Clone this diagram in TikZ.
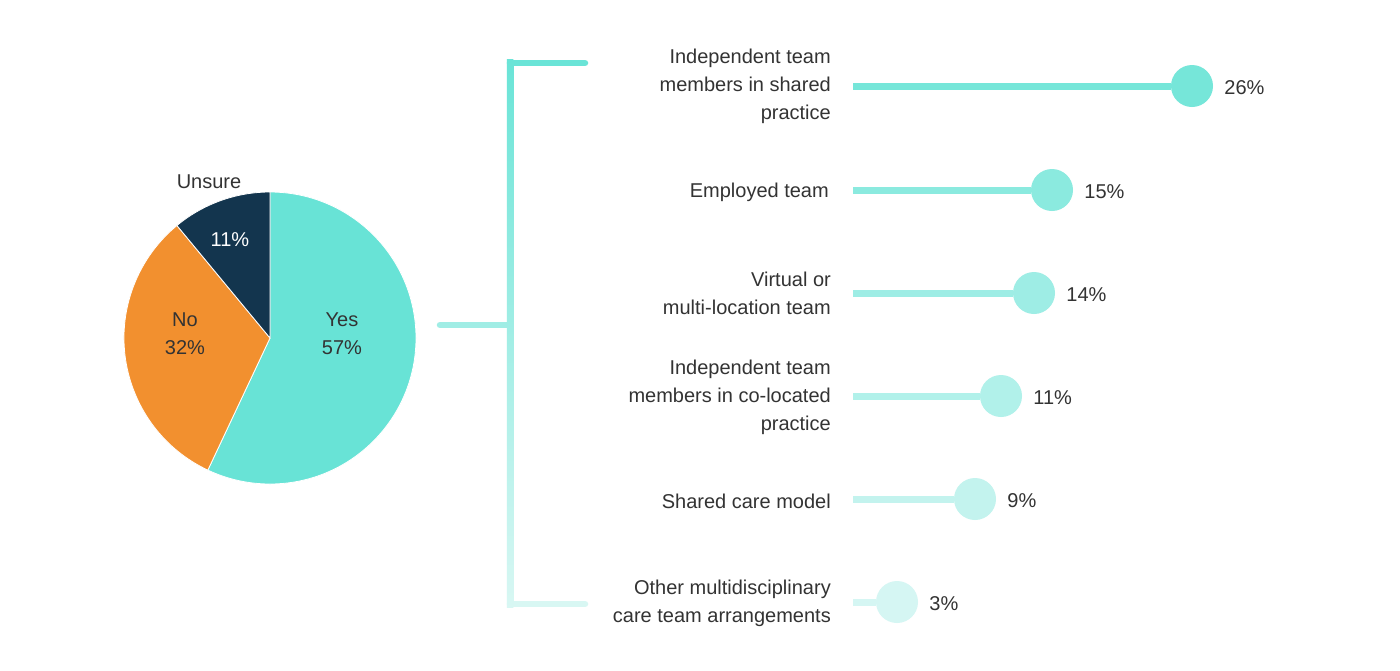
\documentclass[tikz,border=0pt]{standalone}
\usepackage{fontspec}
\setmainfont{Liberation Sans}
\definecolor{yescol}{HTML}{68E3D6}
\definecolor{nocol}{HTML}{F2902F}
\definecolor{unsurecol}{HTML}{13354E}
\definecolor{textcol}{HTML}{333333}
\definecolor{ra}{HTML}{76E6D9}
\definecolor{rb}{HTML}{8BEADF}
\definecolor{rc}{HTML}{9EEDE5}
\definecolor{rd}{HTML}{B1F1EA}
\definecolor{re}{HTML}{C3F3EE}
\definecolor{rf}{HTML}{D5F6F3}
\definecolor{bktop}{HTML}{6AE4D7}
\definecolor{bkmid}{HTML}{A0EDE5}
\definecolor{bkbot}{HTML}{D8F7F3}
\begin{document}
\begin{tikzpicture}[x=1pt,y=-1pt,
  txt/.style={font=\fontsize{20}{28}\selectfont, text=textcol, inner sep=0pt, yshift=-2pt},
  slice/.style={draw=white, line width=0.8pt},
  bar/.style={line width=7pt},
  dot/.style={circle, minimum size=42pt, inner sep=0pt},
  stub/.style={line width=6.5pt, line cap=round}]
\useasboundingbox (0,0) rectangle (1400,670);
\fill[white] (0,0) rectangle (1400,670);
% pie
\coordinate (pc) at (270,338);
\fill[yescol,slice] (pc) -- ++(-90:146) arc[start angle=-90,end angle=115.2,radius=146] -- cycle;
\fill[nocol,slice] (pc) -- ++(115.2:146) arc[start angle=115.2,end angle=230.4,radius=146] -- cycle;
\fill[unsurecol,slice] (pc) -- ++(230.4:146) arc[start angle=230.4,end angle=270,radius=146] -- cycle;
\node[txt] (unsure) at (209,180) {Unsure};
\node[txt,text=white] (unsurep) at (230,238) {11\%};
\node[txt,align=center] (no) at (185,332) {No\\32\%};
\node[txt,align=center] (yes) at (342,332) {Yes\\57\%};
% bracket
\coordinate (bl) at (440,325);
\coordinate (bj) at (510,325);
\coordinate (bt) at (510,63);
\coordinate (bb) at (510,604);
\coordinate (btr) at (585,63);
\coordinate (bbr) at (585,604);
\draw[stub,bkmid] (bl) -- (bj);
\draw[stub,bktop] (bt) -- (btr);
\draw[stub,bkbot] (bb) -- (bbr);
\shade[top color=bktop, bottom color=bkbot] (506.75,59.75) rectangle (513.25,607.25);
% bars
\foreach \i/\y/\cx/\col/\p in {1/86/1192/ra/26,2/190/1052/rb/15,3/293/1034/rc/14,4/396/1001/rd/11,5/499/975/re/9,6/602/897/rf/3}{
  \coordinate (s\i) at (853,\y);
  \node[dot,fill=\col] (c\i) at (\cx,\y) {};
  \draw[bar,\col] (s\i) -- (c\i);
  \node[txt,anchor=west] (p\i) at ([xshift=11pt]c\i.east) {\p\%};
}
\node[txt,anchor=east,align=right] (l1) at (831,84) {Independent team\\members in shared\\practice};
\node[txt,anchor=east,align=right] (l2) at (829,190) {Employed team};
\node[txt,anchor=east,align=right] (l3) at (831,291) {Virtual or\\multi-location team};
\node[txt,anchor=east,align=right] (l4) at (831,395) {Independent team\\members in co-located\\practice};
\node[txt,anchor=east,align=right] (l5) at (831,499) {Shared care model};
\node[txt,anchor=east,align=right] (l6) at (831,601) {Other multidisciplinary\\care team arrangements};
\end{tikzpicture}
\end{document}
